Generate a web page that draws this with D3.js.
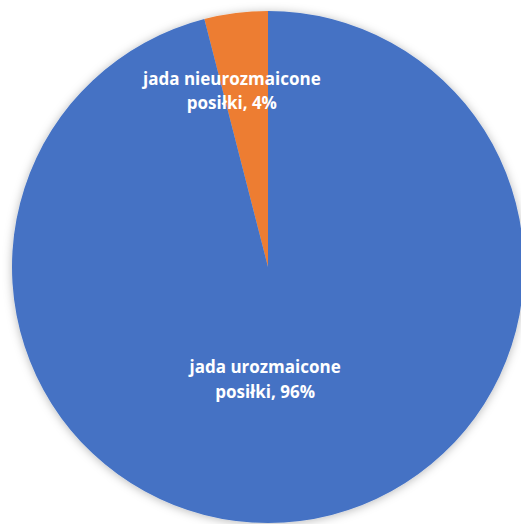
<!DOCTYPE html>
<html>
<head>
<meta charset="utf-8">
<script src="https://cdn.jsdelivr.net/npm/d3@7"></script>
<style>
  html, body { margin: 0; padding: 0; background: #ffffff; }
  svg { display: block; }
  .lbl { font-family: "Open Sans", "Noto Sans", sans-serif; font-weight: 700; font-size: 17px; fill: #ffffff; }
</style>
</head>
<body>
<svg id="chart" width="521" height="524"></svg>
<script>
// Meal variety answers (percent of respondents)
const categories = ["jada nieurozmaicone posiłki", "jada urozmaicone posiłki"];
const labelLines = [["jada nieurozmaicone", "posiłki, 4%"], ["jada urozmaicone", "posiłki, 96%"]];
const values = [4, 96];
const colors = ["#ED7D31", "#4472C4"];

const W = 521, H = 524;
const cx = 268, cy = 267, R = 256;

const svg = d3.select("#chart");

// soft shadow around the pie
const defs = svg.append("defs");
const f = defs.append("filter").attr("id", "shadow")
  .attr("x", "-20%").attr("y", "-20%").attr("width", "140%").attr("height", "140%");
f.append("feDropShadow").attr("dx", 0).attr("dy", 1).attr("stdDeviation", 5)
  .attr("flood-color", "#000").attr("flood-opacity", 0.28);

const pie = d3.pie().sort(null).value(d => d)
  .startAngle(-2 * Math.PI * values[0] / 100)
  .endAngle(2 * Math.PI - 2 * Math.PI * values[0] / 100);
const arcs = pie(values);
const arc = d3.arc().innerRadius(0).outerRadius(R);

const g = svg.append("g").attr("transform", `translate(${cx},${cy})`);

g.append("g").attr("filter", "url(#shadow)")
  .selectAll("path").data(arcs).join("path")
  .attr("d", arc)
  .attr("fill", (d, i) => colors[i]);

// label anchors: radius fraction along each slice, plus a nudge
const labelPos = [{ r: 0.69, dx: -14, dy: 5 }, { r: 0.44, dx: -17, dy: 6.5 }];
const lineH = 24.5;

arcs.forEach((d, i) => {
  const rr = labelPos[i].r * R;
  const [x, y] = d3.arc().innerRadius(rr).outerRadius(rr).centroid(d);
  const lines = labelLines[i];
  const lx = x + labelPos[i].dx;
  const t = g.append("text").attr("class", "lbl")
    .attr("text-anchor", "middle")
    .attr("x", lx)
    .attr("y", y - (lines.length - 1) * lineH / 2 + labelPos[i].dy);
  lines.forEach((ln, k) => {
    t.append("tspan").attr("x", lx).attr("dy", k === 0 ? 0 : lineH).text(ln);
  });
});
</script>
</body>
</html>
